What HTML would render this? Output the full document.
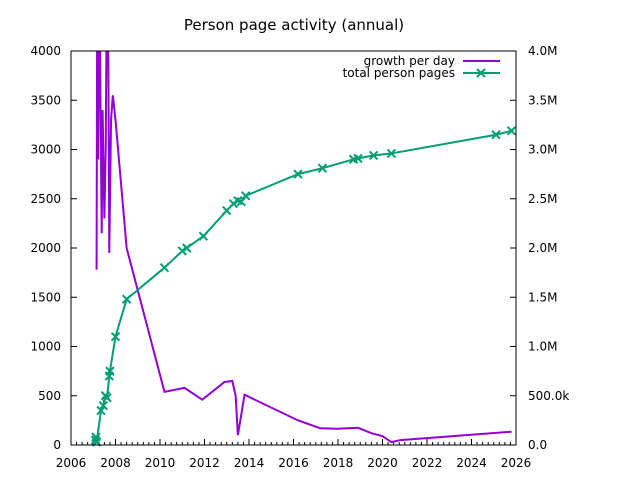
<!DOCTYPE html>
<html><head><meta charset="utf-8"><style>
body{margin:0;background:#fff}
svg{font-family:"DejaVu Sans","Liberation Sans",sans-serif;display:block}
</style></head><body>
<svg id="c" width="640" height="480"></svg>
<script>
const growthYears=[2007.15,2007.18,2007.22,2007.28,2007.32,2007.38,2007.42,2007.50,2007.56,2007.62,2007.68,2007.72,2007.80,2007.88,2008.0,2008.5,2010.2,2011.1,2011.9,2012.9,2013.25,2013.4,2013.5,2013.8,2016.2,2017.2,2018.0,2018.9,2019.5,2020.0,2020.4,2020.8,2025.8];
const growthValues=[1780,5000,2900,5000,3600,2150,3400,2300,3000,5000,3800,1950,3300,3550,3300,2000,540,580,460,640,650,500,100,510,250,170,165,175,120,90,30,50,135];
const totalYears=[2007.1,2007.12,2007.15,2007.35,2007.45,2007.55,2007.62,2007.72,2007.75,2008.0,2008.5,2010.2,2011.0,2011.2,2011.95,2013.0,2013.3,2013.5,2013.65,2013.85,2016.2,2017.3,2018.7,2018.9,2019.6,2020.4,2025.1,2025.8];
const totalValues=[50000,80000,30000,350000,400000,500000,480000,700000,750000,1100000,1480000,1800000,1970000,2000000,2120000,2380000,2450000,2480000,2470000,2530000,2750000,2810000,2900000,2910000,2940000,2960000,3150000,3190000];
const xTicks=[2006,2008,2010,2012,2014,2016,2018,2020,2022,2024,2026];
const yTicks=[0,500,1000,1500,2000,2500,3000,3500,4000];
const y2Ticks=[0,500000,1000000,1500000,2000000,2500000,3000000,3500000,4000000];
const y2Labels=["0.0","500.0k","1.0M","1.5M","2.0M","2.5M","3.0M","3.5M","4.0M"];
const L=71,R=516,T=51,B=445;
const X=v=>L+(v-2006)/20*(R-L);
const Y=v=>B-v/4000*(B-T);
const Y2=v=>B-v/4000000*(B-T);
const NS="http://www.w3.org/2000/svg";
const svg=document.getElementById('c');
function el(tag,at,parent){const e=document.createElementNS(NS,tag);for(const k in at)e.setAttribute(k,at[k]);(parent||svg).appendChild(e);return e;}
let t=el('text',{x:294,y:30,'text-anchor':'middle','font-size':15});t.textContent='Person page activity (annual)';


const defs=el('defs',{});const cp=el('clipPath',{id:'clip'},defs);el('rect',{x:L,y:T,width:R-L,height:B-T},cp);
for(let v=2006;v<=2026.001;v+=0.25){const maj=Math.abs(v-Math.round(v/2)*2)<1e-6;el('line',{x1:X(v),x2:X(v),y1:B,y2:B-(maj?6:3),stroke:'#000'});}
xTicks.forEach(v=>{const e=el('text',{x:X(v),y:B+22,'text-anchor':'middle','font-size':12});e.textContent=v;

});
yTicks.forEach(v=>{el('line',{x1:L,x2:L+6,y1:Y(v),y2:Y(v),stroke:'#000'});const e=el('text',{x:L-10,y:Y(v)+4,'text-anchor':'end','font-size':12});e.textContent=v;

});
y2Ticks.forEach((v,i)=>{el('line',{x1:R,x2:R-6,y1:Y2(v),y2:Y2(v),stroke:'#000'});const e=el('text',{x:R+12,y:Y2(v)+4,'font-size':12});e.textContent=y2Labels[i];

});
const g=el('polyline',{points:growthYears.map((y,i)=>X(y)+','+Y(growthValues[i])).join(' '),fill:'none',stroke:'#9400d3','stroke-width':2,'clip-path':'url(#clip)'});


const tl=el('polyline',{points:totalYears.map((y,i)=>X(y)+','+Y2(totalValues[i])).join(' '),fill:'none',stroke:'#009e73','stroke-width':2});


function mark(cx,cy){el('path',{d:`M${cx-4} ${cy-4}L${cx+4} ${cy+4}M${cx-4} ${cy+4}L${cx+4} ${cy-4}`,stroke:'#009e73','stroke-width':2});}
totalYears.forEach((y,i)=>mark(X(y),Y2(totalValues[i])));
el('rect',{x:L,y:T,width:R-L,height:B-T,fill:'none',stroke:'#000'});
let a=el('text',{x:455,y:65,'text-anchor':'end','font-size':12});a.textContent='growth per day';


el('line',{x1:463,x2:500,y1:61,y2:61,stroke:'#9400d3','stroke-width':2});
let b=el('text',{x:455,y:77,'text-anchor':'end','font-size':12});b.textContent='total person pages';


el('line',{x1:463,x2:500,y1:73,y2:73,stroke:'#009e73','stroke-width':2});mark(481,73);
</script>
</body></html>
